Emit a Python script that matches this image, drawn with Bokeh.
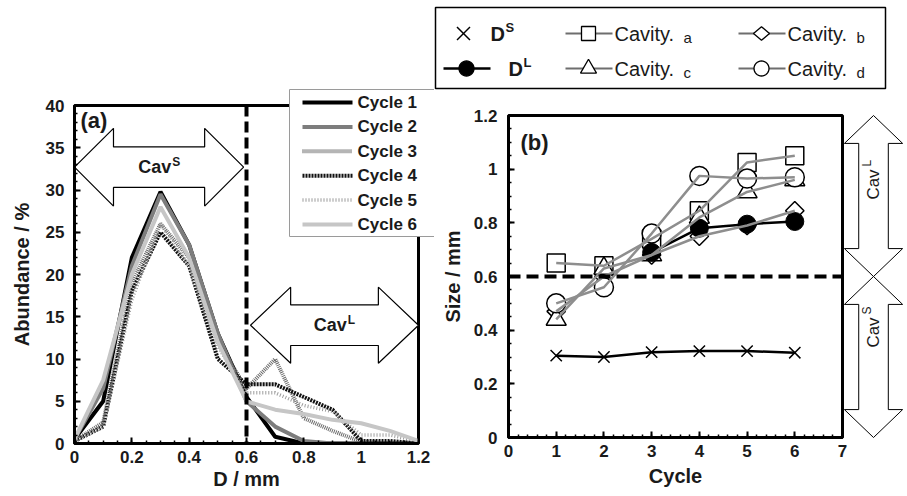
from math import cos, pi, sin, sqrt

from bokeh.core.properties import value
from bokeh.embed import file_html
from bokeh.layouts import column, row
from bokeh.models import (FixedTicker, Label, NumeralTickFormatter, Range1d,
                          SingleIntervalTicker, Span)
from bokeh.plotting import figure
from bokeh.resources import INLINE

FONT = "Liberation Sans"
NAN = float("nan")
INK = "#1a1a1a"

# ---------------- (a) cavity size distribution ----------------
diameter_mm = [0.0, 0.1, 0.2, 0.3, 0.4, 0.5, 0.6, 0.7, 0.8, 0.9, 1.0, 1.1, 1.2]
abundance_cycle1 = [0.5, 5.0, 22.0, 29.8, 23.5, 13.0, 5.5, 0.8, 0.0, 0.0, 0.0, 0.0, 0.0]
abundance_cycle2 = [0.5, 6.5, 21.0, 29.5, 23.5, 13.0, 5.0, 2.0, 0.3, 0.0, 0.0, 0.0, 0.0]
abundance_cycle3 = [0.3, 2.5, 19.0, 26.0, 22.0, 12.0, 6.5, 10.0, 3.0, 1.5, 0.2, 0.0, 0.0]
abundance_cycle4 = [0.3, 2.0, 18.0, 25.0, 21.0, 10.0, 7.0, 7.0, 5.5, 4.0, 0.3, 0.3, 0.0]
abundance_cycle5 = [0.3, 2.0, 17.0, 26.0, 21.0, 11.5, 6.0, 6.0, 4.5, 3.8, 1.0, 1.0, 0.3]
abundance_cycle6 = [0.5, 7.5, 20.0, 28.0, 22.0, 12.0, 5.0, 4.0, 3.5, 2.8, 2.4, 1.5, 0.3]
cycle_names = ["Cycle 1", "Cycle 2", "Cycle 3", "Cycle 4", "Cycle 5", "Cycle 6"]
d_ticks = [0, 0.2, 0.4, 0.6, 0.8, 1.0, 1.2]

# small / large cavity boundary (mm)
boundary_mm = 0.6

# ---------------- (b) cavity sizes versus cycle ----------------
cycles = [1, 2, 3, 4, 5, 6]
size_d_small = [0.305, 0.300, 0.318, 0.322, 0.322, 0.316]
size_d_large = [NAN, NAN, 0.690, 0.780, 0.795, 0.805]
size_cavity_a = [0.650, 0.640, 0.740, 0.845, 1.025, 1.050]
size_cavity_b = [0.470, 0.600, 0.680, 0.750, 0.790, 0.845]
size_cavity_c = [0.440, 0.630, 0.680, 0.820, 0.915, 0.960]
size_cavity_d = [0.500, 0.560, 0.760, 0.975, 0.965, 0.970]
size_ticks = [0, 0.2, 0.4, 0.6, 0.8, 1.0, 1.2]
cavity_letters = ["a", "b", "c", "d"]

# line styles for the six cycles
cycle_styles = [
    dict(line_color="#000000", line_width=4),
    dict(line_color="#7d7d7d", line_width=4),
    dict(line_color="#6a6a6a", line_width=4, line_dash="1 1"),
    dict(line_color="#111111", line_width=4, line_dash="2 1"),
    dict(line_color="#9c9c9c", line_width=3.5, line_dash="1 2"),
    dict(line_color="#c6c6c6", line_width=4),
]
GREY = "#8e8e8e"
# marker kind, size and rotation of the cavity series a..d
cavity_markers = [("square", 18, 0.0), ("square", 13, pi / 4), ("triangle", 20, 0.0),
                  ("circle", 19, 0.0)]
cavity_key_shapes = [("square", 14), ("diamond", 16), ("triangle", 16), ("circle", 15)]


def minor_steps(lo, hi, step):
    n = int(round((hi - lo) / step))
    return [round(lo + i * step, 6) for i in range(n + 1)]


def style_axes(p, xlabel, ylabel, x_std, x_lab_std, y_std, y_lab_std):
    p.grid.visible = False
    p.outline_line_color = "black"
    p.outline_line_width = 3
    p.xaxis.axis_label = xlabel
    p.yaxis.axis_label = ylabel
    p.xaxis.major_label_standoff = x_std
    p.xaxis.axis_label_standoff = x_lab_std
    p.yaxis.major_label_standoff = y_std
    p.yaxis.axis_label_standoff = y_lab_std
    for ax in p.axis:
        ax.axis_line_width = 3
        ax.axis_line_color = "black"
        ax.major_tick_in = 6
        ax.major_tick_out = 0
        ax.minor_tick_in = 3
        ax.minor_tick_out = 0
        ax.major_tick_line_width = 2
        ax.minor_tick_line_width = 1.5
        ax.major_label_text_font = FONT
        ax.major_label_text_font_size = "17px"
        ax.major_label_text_font_style = "bold"
        ax.major_label_text_color = INK
        ax.axis_label_text_font = FONT
        ax.axis_label_text_font_size = "20px"
        ax.axis_label_text_font_style = "bold"
        ax.axis_label_text_color = INK


def block_arrow(lo, hi, mid, head_len, head_half, shaft_half):
    """Outline of a two-headed block arrow running from lo to hi along its axis."""
    along = [lo, lo + head_len, lo + head_len, hi - head_len, hi - head_len, hi,
             hi - head_len, hi - head_len, lo + head_len, lo + head_len, lo]
    across = [mid, mid + head_half, mid + shaft_half, mid + shaft_half, mid + head_half, mid,
              mid - head_half, mid - shaft_half, mid - shaft_half, mid - head_half, mid]
    return along, across


def label(x, y, s, size, style="bold", **kw):
    kw.setdefault("text_align", "left")
    kw.setdefault("text_baseline", "middle")
    return Label(x=x, y=y, text=s, text_font=FONT, text_font_size=f"{size}px",
                 text_font_style=style, text_color=INK, **kw)


def sup_label(x, y, main, sup, main_size, sup_size, width_main):
    """'main' text with a raised smaller 'sup' after it, centred on (x, y)."""
    shift = width_main - (width_main + sup_size * 0.7) / 2
    return (label(x, y, main, main_size, text_align="right", x_offset=shift),
            label(x, y, sup, sup_size, x_offset=shift + 1, y_offset=5))


PX = dict(x_range_name="px", y_range_name="px", level="overlay")


def px_text(p, x, y, s, size, style="bold", **kw):
    """Text placed in canvas pixels (the 'px' ranges), drawn above everything."""
    kw.setdefault("text_align", "left")
    kw.setdefault("text_baseline", "middle")
    p.text([x], [y], text=[s], text_font=value(FONT), text_font_size=value(f"{size}px"),
           text_font_style=style, text_color=INK, **PX, **kw)


def key_shape(p, kind, cx, cy, size, fill="white"):
    """Key symbol outlined in canvas pixels (y grows downwards)."""
    r = size / 2
    if kind == "x":
        p.line([cx - r, cx + r], [cy - r, cy + r], line_color="black", line_width=1.5, **PX)
        p.line([cx - r, cx + r], [cy + r, cy - r], line_color="black", line_width=1.5, **PX)
        return
    if kind == "square":
        xs, ys = [cx - r, cx + r, cx + r, cx - r], [cy - r, cy - r, cy + r, cy + r]
    elif kind == "diamond":
        xs, ys = [cx, cx + r, cx, cx - r], [cy - r * 0.85, cy, cy + r * 0.85, cy]
    elif kind == "triangle":
        h = r * sqrt(3)
        xs, ys = [cx - r, cx + r, cx], [cy + h / 3, cy + h / 3, cy - 2 * h / 3]
    else:
        xs = [cx + r * cos(2 * pi * k / 32) for k in range(32)]
        ys = [cy + r * sin(2 * pi * k / 32) for k in range(32)]
    p.patch(xs, ys, fill_color=fill, line_color="black", line_width=1.3, **PX)


# ======================= panel (a) =======================
pa = figure(width=434, height=496, title=None, x_range=Range1d(0, 1.2), y_range=Range1d(0, 40),
            output_backend="svg", toolbar_location=None,
            min_border_left=74, min_border_right=16, min_border_top=105, min_border_bottom=53)
# canvas-pixel coordinates (frame spans x 74..418, y 105..443)
pa.extra_x_ranges = {"px": Range1d(74, 418)}
pa.extra_y_ranges = {"px": Range1d(443, 105)}
style_axes(pa, "D / mm", "Abundance / %", 7, 2, 10, 10)
pa.xaxis.ticker = FixedTicker(ticks=d_ticks, minor_ticks=minor_steps(0, 1.2, 0.05))
pa.yaxis.ticker = SingleIntervalTicker(interval=5, num_minor_ticks=5)
pa.xaxis.formatter = NumeralTickFormatter(format="0.[0]")

# block arrows marking the small and large cavity ranges
sx_, sy_ = block_arrow(0.0, 0.59, 32.7, 0.136, 4.6, 2.4)
pa.patch(sx_, sy_, fill_color="white", line_color="black", line_width=1.2)
lx_, ly_ = block_arrow(0.614, 1.2, 14.0, 0.14, 4.5, 2.4)
pa.patch(lx_, ly_, fill_color="white", line_color="black", line_width=1.2)
for lab in sup_label(0.295, 32.7, "Cav", "S", 18, 12, 33):
    pa.add_layout(lab)
for lab in sup_label(0.907, 14.0, "Cav", "L", 18, 12, 33):
    pa.add_layout(lab)

series_a = [abundance_cycle1, abundance_cycle2, abundance_cycle3,
            abundance_cycle4, abundance_cycle5, abundance_cycle6]
for vals, st in zip(series_a, cycle_styles):
    pa.line(diameter_mm, vals, **st)

pa.add_layout(Span(location=boundary_mm, dimension="height", line_color="black",
                   line_width=4, line_dash="11 5"))
pa.add_layout(label(0, 40, "(a)", 22, x_offset=6, y_offset=-2, text_baseline="top"))

# key of the six cycles, overlapping the frame's top-right corner
pa.quad(left=289, right=445, top=89, bottom=236, fill_color="white",
        line_color="#9a9a9a", line_width=1, **PX)
for i, (name, st) in enumerate(zip(cycle_names, cycle_styles)):
    yk = 102 + 24.4 * i
    pa.line([302, 352], [yk, yk], **st, **PX)
    px_text(pa, 357, yk, name, 17)

# ======================= panel (b) =======================
pb = figure(width=473, height=496, title=None, x_range=Range1d(0, 7), y_range=Range1d(0, 1.2),
            output_backend="svg", toolbar_location=None,
            min_border_left=74, min_border_right=65, min_border_top=115, min_border_bottom=59)
# canvas-pixel coordinates (frame spans x 508..842, y 115..437)
pb.extra_x_ranges = {"px": Range1d(508, 842)}
pb.extra_y_ranges = {"px": Range1d(437, 115)}
style_axes(pb, "Cycle", "Size / mm", 7, 5, 11, 7)
pb.xaxis.ticker = SingleIntervalTicker(interval=1, num_minor_ticks=5)
pb.yaxis.ticker = FixedTicker(ticks=size_ticks, minor_ticks=minor_steps(0, 1.2, 0.05))
pb.yaxis.formatter = NumeralTickFormatter(format="0.[0]")

cavity_series = [size_cavity_a, size_cavity_b, size_cavity_c, size_cavity_d]
# markers first, connecting lines drawn over them
for vals, (marker, size, ang) in zip(cavity_series, cavity_markers):
    pb.scatter(cycles, vals, marker=marker, size=size, angle=ang, fill_color="white",
               line_color="black", line_width=1.5)
pb.scatter(cycles, size_d_large, marker="circle", size=18, fill_color="black", line_color="black")
pb.scatter(cycles, size_d_small, marker="x", size=16, line_color="black", line_width=1.5)
pb.line(cycles, size_d_small, line_color="black", line_width=2.5)
pb.line(cycles, size_d_large, line_color="black", line_width=2.5)
for vals in cavity_series:
    pb.line(cycles, vals, line_color=GREY, line_width=2.5)

pb.add_layout(Span(location=boundary_mm, dimension="width", line_color="black",
                   line_width=4, line_dash="12 6"))
pb.add_layout(label(0, 1.2, "(b)", 22, x_offset=12, y_offset=-14, text_baseline="top"))

# vertical block arrows beside the frame: large cavities above the boundary, small below
ly2, lx2 = block_arrow(boundary_mm, 1.2, 7.65, 0.104, 0.61, 0.31)
pb.patch(lx2, ly2, fill_alpha=0, line_color="black", line_width=1, level="overlay")
sy2, sx2 = block_arrow(0.0, boundary_mm, 7.65, 0.104, 0.61, 0.31)
pb.patch(sx2, sy2, fill_alpha=0, line_color="black", line_width=1, level="overlay")
px_text(pb, 873, 184, "Cav", 17, "normal", angle=pi / 2, text_align="center")
px_text(pb, 866, 166, "L", 12, "normal", angle=pi / 2)
px_text(pb, 873, 332, "Cav", 17, "normal", angle=pi / 2, text_align="center")
px_text(pb, 866, 314, "S", 12, "normal", angle=pi / 2)

# key above panel (b): D^S / D^L, then cavities a, c and b, d
pb.quad(left=435, right=885, top=7, bottom=88, fill_color="white",
        line_color="black", line_width=1.5, **PX)
row_y = [33, 68]
key_shape(pb, "x", 463, row_y[0], 13)
pb.line([443, 490], [row_y[1], row_y[1]], line_color="black", line_width=2.5, **PX)
key_shape(pb, "circle", 466, row_y[1], 15, fill="black")
px_text(pb, 490, row_y[0], "D", 20)
px_text(pb, 505, row_y[0] - 6, "S", 13)
px_text(pb, 508, row_y[1], "D", 20)
px_text(pb, 523, row_y[1] - 6, "L", 13)

key_slots = [(565, row_y[0]), (738, row_y[0]), (565, row_y[1]), (738, row_y[1])]
for (x0, yk), (kind, size), letter in zip(key_slots, cavity_key_shapes, cavity_letters):
    pb.line([x0, x0 + 47], [yk, yk], line_color="#6e6e6e", line_width=2, **PX)
    key_shape(pb, kind, x0 + 23, yk, size)
    px_text(pb, x0 + 49, yk, "Cavity.", 20, "normal")
    px_text(pb, x0 + 118, yk + 4, letter, 15, "normal", text_baseline="alphabetic")

layout = row(pa, column(pb, spacing=0), spacing=0)
open("out.html", "w").write(file_html(layout, INLINE))
